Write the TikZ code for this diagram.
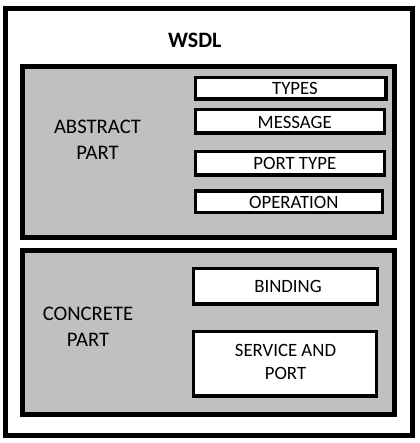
\documentclass[tikz,border=0pt]{standalone}
\usepackage{fontspec}
\setmainfont{Carlito}
\definecolor{boxgray}{HTML}{C0C0C0}
\begin{document}
\begin{tikzpicture}[x=1pt,y=-1pt,
  bigbox/.style={draw=black,line width=5pt,fill=boxgray,inner sep=0pt,rectangle},
  outerbox/.style={draw=black,line width=5pt,fill=white,inner sep=0pt,rectangle},
  wbox/.style={draw=black,line width=3.5pt,fill=white,inner sep=0pt,rectangle},
  sidelbl/.style={font=\fontsize{20.7}{25.8}\selectfont,align=center,inner sep=0pt,anchor=base},
  boxlbl/.style={font=\fontsize{18.8}{22.7}\selectfont,align=center,inner sep=0pt,anchor=base},
  titlelbl/.style={font=\fontsize{22}{26}\selectfont\bfseries,inner sep=0pt,anchor=base}]
\useasboundingbox[fill=white] (0,0) rectangle (419,443);
\node[outerbox,minimum width=407pt,minimum height=426.5pt] (wsdl) at (209,221.75) {};
\node[titlelbl] (title) at (194.7,47.7) {WSDL};
\node[bigbox,minimum width=371.8pt,minimum height=171pt] (abstract) at (208.4,152) {};
\node[bigbox,minimum width=371.8pt,minimum height=163.5pt] (concrete) at (208.4,332.45) {};
\node[sidelbl] (abstractT) at (97.5,159.3) {ABSTRACT\\PART};
\node[sidelbl] (concreteT) at (88,346.7) {CONCRETE\\PART};
\node[wbox,minimum width=190.1pt,minimum height=21.3pt] (types) at (290.75,88.35) {};
\node[wbox,minimum width=188.6pt,minimum height=23.8pt] (message) at (290,121.3) {};
\node[wbox,minimum width=188.6pt,minimum height=23.3pt] (porttype) at (290,163.35) {};
\node[wbox,minimum width=186.6pt,minimum height=21.5pt] (operation) at (289,201.75) {};
\node[wbox,minimum width=183.8pt,minimum height=35.7pt] (binding) at (285.4,286.35) {};
\node[wbox,minimum width=183.1pt,minimum height=64.3pt] (service) at (285,363.85) {};
\node[boxlbl] (typesT) at (295,95) {TYPES};
\node[boxlbl] (messageT) at (294.7,128.7) {MESSAGE};
\node[boxlbl] (porttypeT) at (294.8,170) {PORT TYPE};
\node[boxlbl] (operationT) at (293.8,208.3) {OPERATION};
\node[boxlbl] (bindingT) at (288,292.7) {BINDING};
\node[boxlbl] (serviceT) at (285.5,379.3) {SERVICE AND\\PORT};
\end{tikzpicture}
\end{document}
